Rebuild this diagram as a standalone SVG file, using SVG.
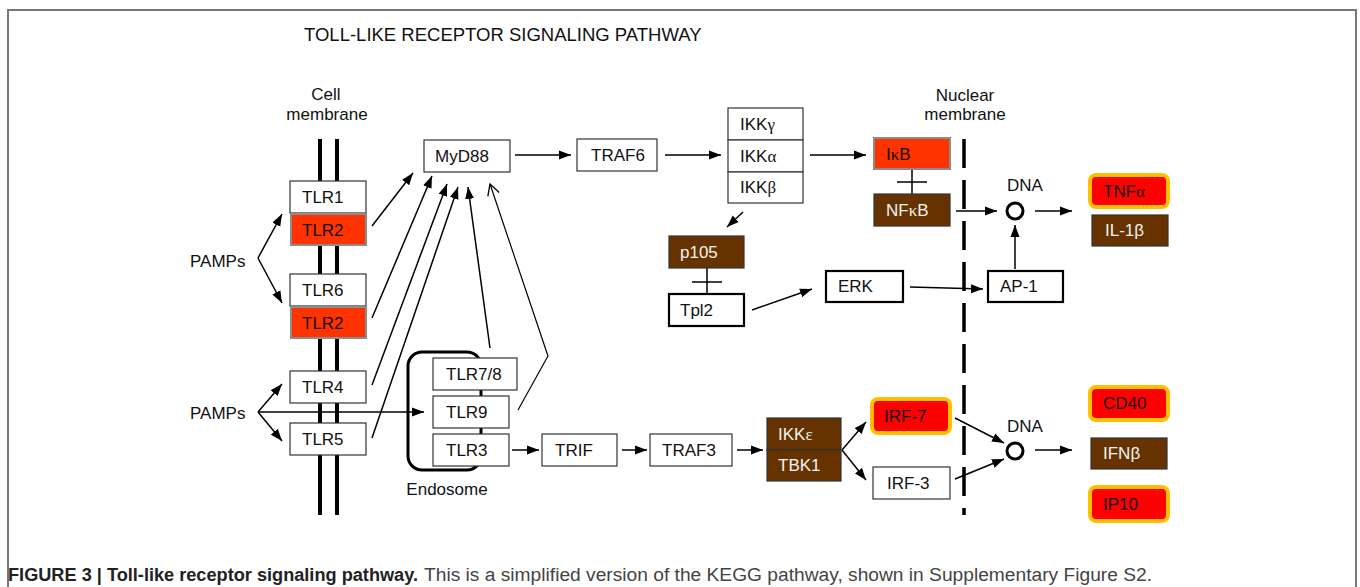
<svg xmlns="http://www.w3.org/2000/svg" width="1360" height="587" viewBox="0 0 1360 587">
<style>
text{font-family:"Liberation Sans",Arial,sans-serif;font-size:17px;fill:#111}
.g{font-family:"Liberation Serif","Times New Roman",serif}
.w{fill:#f2f2f2}
.box{fill:#fff;stroke:#333;stroke-width:1.2}
.bold2{fill:#fff;stroke:#000;stroke-width:2.2}
.red{fill:#ff3300;stroke:#8c8c8c;stroke-width:2}
.brown{fill:#663300;stroke:#333;stroke-width:1.2}
.gold{fill:#ff0000;stroke:#ffc000;stroke-width:4}
.ln{stroke:#000;stroke-width:1.5;fill:none}
.arr{stroke:#000;stroke-width:1.5;fill:none;marker-end:url(#ah)}
.open{stroke:#000;stroke-width:1.2;fill:none;marker-end:url(#oh)}
.mem{stroke:#000;stroke-width:4}
</style>
<defs>
<marker id="ah" markerUnits="userSpaceOnUse" markerWidth="13" markerHeight="10" refX="12" refY="5" orient="auto"><path d="M0,0.5 L12,5 L0,9.5 z" fill="#000"/></marker>
<marker id="oh" markerUnits="userSpaceOnUse" markerWidth="14" markerHeight="14" refX="12" refY="7" orient="auto"><path d="M1,1 L12,7 L1,13" fill="none" stroke="#000" stroke-width="1.3"/></marker>
</defs>
<rect width="1360" height="587" fill="#fff"/>
<path d="M8,600 V10 H1356 V600" fill="none" stroke="#777" stroke-width="2"/>
<text x="304" y="41" style="font-size:18.5px">TOLL-LIKE RECEPTOR SIGNALING PATHWAY</text>
<g id="labels">
<text x="326" y="100" text-anchor="middle">Cell</text>
<text x="327" y="120" text-anchor="middle">membrane</text>
<text x="965" y="101" text-anchor="middle">Nuclear</text>
<text x="965" y="120" text-anchor="middle">membrane</text>
<text x="447" y="495" text-anchor="middle">Endosome</text>
<text x="190" y="267">PAMPs</text>
<text x="190" y="419">PAMPs</text>
<text x="1007" y="191">DNA</text>
<text x="1007" y="432">DNA</text>
</g>
<g id="membranes">
<line class="mem" x1="320" y1="139" x2="320" y2="515"/>
<line class="mem" x1="337" y1="139" x2="337" y2="515"/>
<line x1="964" y1="139" x2="964" y2="515" stroke="#000" stroke-width="3.5" stroke-dasharray="29 12"/>
<rect x="408" y="352" width="73" height="118" rx="14" fill="none" stroke="#000" stroke-width="3"/>
</g>
<g id="connectors">
<path class="arr" d="M258,258 L282,214"/>
<path class="arr" d="M258,258 L282,303"/>
<path class="arr" d="M258,412 L282,384"/>
<path class="arr" d="M258,412 L282,441"/>
<path class="arr" d="M258,412 L424,412"/>
<path class="arr" d="M372,226 L413,173"/>
<path class="arr" d="M372,318 L432,176"/>
<path class="arr" d="M372,385 L447,184"/>
<path class="arr" d="M372,438 L458,187"/>
<path class="arr" d="M490,348 L468,187"/>
<path class="open" d="M518,410 L548,356 L490,184"/>
<path class="arr" d="M515,155 L571,155"/>
<path class="arr" d="M665,155 L721,155"/>
<path class="arr" d="M810,155 L866,155"/>
<path class="arr" d="M743,212 L727,227"/>
<path class="ln" d="M912,169 V194 M897,182 H927"/>
<path class="ln" d="M707,268 V293 M692,282 H722"/>
<path class="arr" d="M752,310 L812,289"/>
<path class="arr" d="M910,287 L983,289"/>
<path class="arr" d="M956,211 L997,211"/>
<path class="arr" d="M1035,211 L1072,211"/>
<path class="arr" d="M1015,269 L1015,225"/>
<path class="arr" d="M512,450 L539,450"/>
<path class="arr" d="M622,450 L647,450"/>
<path class="arr" d="M737,450 L763,450"/>
<path class="arr" d="M842,450 L866,422"/>
<path class="arr" d="M842,450 L866,480"/>
<path class="arr" d="M955,418 L1004,443"/>
<path class="arr" d="M955,479 L1004,459"/>
<path class="arr" d="M1035,450 L1072,450"/>
<circle cx="1015" cy="211" r="8" fill="#fff" stroke="#000" stroke-width="3"/>
<circle cx="1015" cy="451" r="8" fill="#fff" stroke="#000" stroke-width="3"/>
</g>
<g id="TLR1"><rect class="box" x="290" y="181" width="76" height="32"/><text x="302" y="203">TLR1</text></g>
<g id="TLR2a"><rect class="red" x="291" y="214" width="75" height="31"/><text x="302" y="236">TLR2</text></g>
<g id="TLR6"><rect class="box" x="290" y="274" width="76" height="32"/><text x="302" y="296">TLR6</text></g>
<g id="TLR2b"><rect class="red" x="291" y="307" width="75" height="31"/><text x="302" y="329">TLR2</text></g>
<g id="TLR4"><rect class="box" x="290" y="371" width="76" height="32"/><text x="302" y="393">TLR4</text></g>
<g id="TLR5"><rect class="box" x="290" y="423" width="76" height="32"/><text x="302" y="445">TLR5</text></g>
<g id="TLR78"><rect class="box" x="433" y="358" width="84" height="32"/><text x="446" y="380">TLR7/8</text></g>
<g id="TLR9"><rect class="box" x="433" y="396" width="76" height="32"/><text x="446" y="418">TLR9</text></g>
<g id="TLR3"><rect class="box" x="433" y="434" width="76" height="32"/><text x="446" y="456">TLR3</text></g>
<g id="MyD88"><rect class="box" x="424" y="140" width="86" height="32"/><text x="435" y="162">MyD88</text></g>
<g id="TRAF6"><rect class="box" x="577" y="139" width="80" height="32"/><text x="591" y="161">TRAF6</text></g>
<g id="IKK">
<rect class="box" x="728" y="108" width="75" height="32"/><text x="740" y="130">IKK<tspan class="g">γ</tspan></text>
<rect class="box" x="728" y="140" width="75" height="32"/><text x="740" y="162">IKK<tspan class="g">α</tspan></text>
<rect class="box" x="728" y="172" width="75" height="31"/><text x="740" y="193">IKK<tspan class="g">β</tspan></text>
</g>
<g id="IkB"><rect class="red" x="874" y="138" width="76" height="31"/><text x="886" y="160">I<tspan class="g">κ</tspan>B</text></g>
<g id="NFkB"><rect class="brown" x="874" y="194" width="76" height="32"/><text class="w" x="886" y="216">NF<tspan class="g w">κ</tspan>B</text></g>
<g id="p105"><rect class="brown" x="669" y="236" width="75" height="32"/><text class="w" x="680" y="258">p105</text></g>
<g id="Tpl2"><rect class="bold2" x="669" y="294" width="75" height="32"/><text x="680" y="316">Tpl2</text></g>
<g id="ERK"><rect class="bold2" x="826" y="271" width="77" height="31"/><text x="838" y="292">ERK</text></g>
<g id="AP1"><rect class="bold2" x="988" y="271" width="75" height="31"/><text x="1000" y="292">AP-1</text></g>
<g id="TNFa"><rect class="gold" x="1090" y="175" width="78" height="32" rx="6"/><text x="1103" y="197">TNF<tspan class="g">α</tspan></text></g>
<g id="IL1b"><rect class="brown" x="1092" y="215" width="76" height="31"/><text class="w" x="1105" y="236">IL-1β</text></g>
<g id="TRIF"><rect class="box" x="542" y="434" width="75" height="32"/><text x="555" y="456">TRIF</text></g>
<g id="TRAF3"><rect class="box" x="650" y="434" width="82" height="32"/><text x="662" y="456">TRAF3</text></g>
<g id="IKKe"><rect class="brown" x="767" y="418" width="74" height="32"/><text class="w" x="778" y="440">IKK<tspan class="g w">ε</tspan></text></g>
<g id="TBK1"><rect class="brown" x="767" y="450" width="74" height="31"/><text class="w" x="778" y="471">TBK1</text></g>
<g id="IRF7"><rect class="gold" x="872" y="399" width="78" height="34" rx="6"/><text x="884" y="422">IRF-7</text></g>
<g id="IRF3"><rect class="box" x="873" y="467" width="77" height="32"/><text x="887" y="489">IRF-3</text></g>
<g id="CD40"><rect class="gold" x="1090" y="387" width="78" height="33" rx="6"/><text x="1103" y="409">CD40</text></g>
<g id="IFNb"><rect class="brown" x="1091" y="438" width="76" height="31"/><text class="w" x="1103" y="459">IFNβ</text></g>
<g id="IP10"><rect class="gold" x="1090" y="487" width="78" height="34" rx="6"/><text x="1103" y="510">IP10</text></g>
<text x="8" y="581" font-weight="bold" textLength="410" lengthAdjust="spacingAndGlyphs" style="font-size:18px;fill:#222">FIGURE 3 | Toll-like receptor signaling pathway.</text>
<text x="424" y="581" textLength="728" lengthAdjust="spacingAndGlyphs" style="font-size:18px;fill:#444">This is a simplified version of the KEGG pathway, shown in Supplementary Figure S2.</text>
</svg>
